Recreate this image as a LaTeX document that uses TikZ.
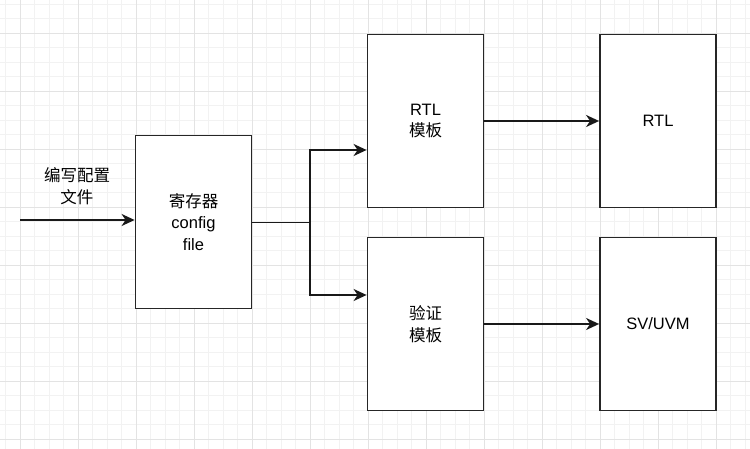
\documentclass[tikz,border=0pt]{standalone}
\usepackage{fontspec}
\setmainfont{Liberation Sans}
\newfontfamily\cjk{Noto Sans CJK SC}
\usetikzlibrary{arrows.meta}
\tikzset{
  box/.style={draw=black!85, line width=1.8pt, fill=white, minimum width=116pt, minimum height=173pt,
    align=center, font=\fontsize{16.5}{21.5}\selectfont, inner sep=0pt},
  arr/.style={draw=black!90, line width=1.8pt, -{Stealth[length=13pt,width=12pt,inset=4pt]}},
  ln/.style={draw=black!90, line width=1.8pt},
  minorgrid/.style={draw=black!5, line width=0.8pt},
  majorgrid/.style={draw=black!11, line width=0.9pt},
  lbl/.style={align=center, font=\fontsize{16.5}{21.5}\selectfont, inner sep=0pt}
}
\begin{document}
\begin{tikzpicture}[x=1pt,y=-1pt]
\useasboundingbox (0,0) rectangle (750,449);
\fill[white] (0,0) rectangle (750,449);
\foreach \i in {0,...,51} { \draw[minorgrid] ({5.5+14.5*\i},0) -- ++(0,449); }
\foreach \i in {0,...,30} { \draw[minorgrid] (0,{4+14.5*\i}) -- ++(750,0); }
\foreach \i in {0,...,12} { \draw[majorgrid] ({20+58*\i},0) -- ++(0,449); }
\foreach \i in {0,...,7} { \draw[majorgrid] (0,{33+58*\i}) -- ++(750,0); }

\node[box] (b1) at (193.5,222) {{\cjk 寄存器}\\config\\file};
\node[box] (t1) at (425.5,121) {RTL\\{\cjk 模板}};
\node[box] (t2) at (425.5,324) {{\cjk 验证}\\{\cjk 模板}};
\node[box] (r1) at (658,121) {RTL};
\node[box] (r2) at (658,324) {SV/UVM};

\coordinate (in) at (20,220);
\node[lbl] (lab) at (77,186) {{\cjk 编写配置}\\{\cjk 文件}};
\draw[arr] (in) -- (in -| b1.west);

\coordinate (j) at (310,222.5);
\draw[ln] (b1.east |- j) -- (j);
\draw[arr] (j) |- ([yshift=-29pt]t1.west);
\draw[arr] (j) |- ([yshift=29pt]t2.west);
\draw[arr] (t1.east) -- (r1.west);
\draw[arr] (t2.east) -- (r2.west);
\end{tikzpicture}
\end{document}
